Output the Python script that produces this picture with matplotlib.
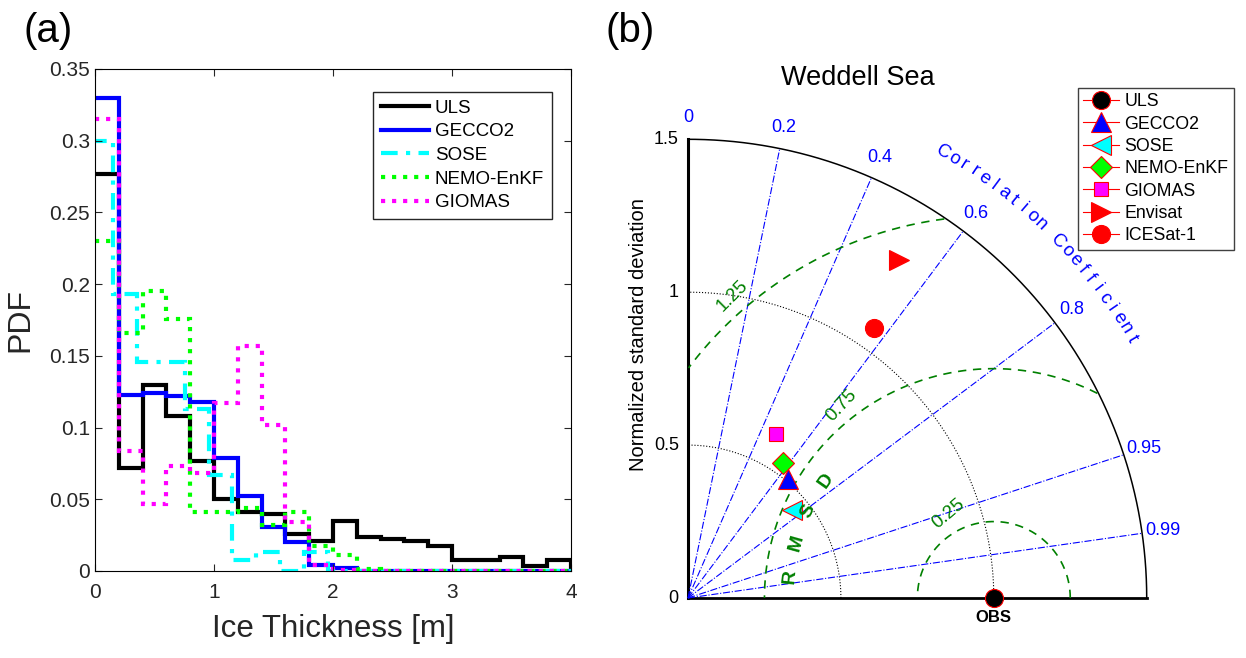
import numpy as np
import matplotlib
matplotlib.use('Agg')
import matplotlib.pyplot as plt
from matplotlib.lines import Line2D

plt.rcParams['font.family'] = ['Liberation Sans', 'DejaVu Sans']

# ---- (a) ice thickness PDFs, 0.2 m bins ----
bin_edges = np.round(np.arange(0, 4.21, 0.2), 2)
sose_edges = np.round(np.arange(-0.045, 4.16, 0.2), 3)

uls = [0.277, 0.072, 0.130, 0.108, 0.077, 0.050, 0.041, 0.040, 0.026, 0.021, 0.035,
       0.0235, 0.022, 0.021, 0.0175, 0.008, 0.008, 0.010, 0.0035, 0.008, 0.003]
gecco2 = [0.330, 0.123, 0.124, 0.122, 0.118, 0.079, 0.052, 0.031, 0.020, 0.004, 0.002,
          0, 0, 0, 0, 0, 0, 0, 0, 0, 0]
sose = [0.300, 0.193, 0.146, 0.146, 0.113, 0.067, 0.0077, 0.0135, 0, 0.013, 0,
        0, 0, 0, 0, 0, 0, 0, 0, 0, 0]
nemo = [0.230, 0.166, 0.195, 0.176, 0.041, 0.041, 0.044, 0.032, 0.041, 0.0175, 0.011,
        0.0014, 0, 0, 0, 0, 0, 0, 0, 0, 0]
giomas = [0.315, 0.084, 0.047, 0.073, 0.068, 0.117, 0.157, 0.102, 0.034, 0.004, 0.001,
          0, 0, 0, 0, 0, 0, 0, 0, 0, 0]

yticks = [0, 0.05, 0.1, 0.15, 0.2, 0.25, 0.3, 0.35]
ytick_labels = ['0', '0.05', '0.1', '0.15', '0.2', '0.25', '0.3', '0.35']
xticks = [0, 1, 2, 3, 4]

# ---- (b) Taylor diagram ----
names = ['ULS', 'GECCO2', 'SOSE', 'NEMO-EnKF', 'GIOMAS', 'Envisat', 'ICESat-1']
std_norm = [1.0, 0.509, 0.445, 0.538, 0.607, 1.303, 1.073]
corr = [1.0, 0.644, 0.762, 0.575, 0.472, 0.530, 0.567]
mk = ['o', '^', '<', 'D', 's', '>', 'o']
mk_color = ['k', 'b', 'cyan', 'lime', 'magenta', 'r', 'r']
mk_size = [13, 14, 14, 11, 10, 14, 13]

corr_ticks = [0, 0.2, 0.4, 0.6, 0.8, 0.95, 0.99]
corr_tick_labels = ['0', '0.2', '0.4', '0.6', '0.8', '0.95', '0.99']
std_ticks = [0, 0.5, 1, 1.5]
std_tick_labels = ['0', '0.5', '1', '1.5']
rmsd_levels = [0.25, 0.75, 1.25]
rmsd_labels = ['0.25', '0.75', '1.25']

fig = plt.figure(figsize=(12.46, 6.58), dpi=100)

# ================= panel (a) =================
ax1 = fig.add_axes([95/1246, 87/658, 476/1246, 502/658])
LW = 3
ax1.stairs(uls, bin_edges, baseline=None, color='k', lw=LW, label='ULS')
ax1.stairs(gecco2, bin_edges, baseline=None, color='b', lw=LW, label='GECCO2')
ax1.stairs(sose, sose_edges, baseline=None, color='cyan', lw=LW,
           ls=(0, (4, 2, 1, 2)), label='SOSE')
ax1.stairs(nemo, bin_edges, baseline=None, color='lime', lw=LW, ls=':', label='NEMO-EnKF')
ax1.stairs(giomas, bin_edges, baseline=None, color='magenta', lw=LW, ls=':', label='GIOMAS')

ax1.set_xlim(0, 4)
ax1.set_ylim(0, 0.35)
ax1.set_xticks(xticks)
ax1.set_yticks(yticks)
ax1.set_yticklabels(ytick_labels)
ax1.tick_params(direction='in', top=True, right=True, labelsize=15, length=5, width=0.8,
                colors='#262626')
ax1.tick_params(axis='x', pad=9)
for s in ax1.spines.values():
    s.set_linewidth(0.8)
ax1.set_xlabel('Ice Thickness [m]', fontsize=22.5, color='#262626', labelpad=8)
ax1.set_ylabel('PDF', fontsize=23, color='#262626', labelpad=10)
ax1.legend(loc='upper left', bbox_to_anchor=(373/1246, 1-92/658), bbox_transform=fig.transFigure,
           fontsize=13.5, frameon=True, fancybox=False, edgecolor='#262626', framealpha=1,
           handlelength=2.6, handletextpad=0.3, borderaxespad=0, borderpad=0.4,
           labelspacing=0.35)
fig.text(24/1246, 1-31/658, '(a)', fontsize=29, va='center', ha='left')

# ================= panel (b) =================
ax2 = fig.add_axes([600/1246, 0, 646/1246, 618/658])
ax2.set_xlim(-0.2878, 1.8247)
ax2.set_ylim(-0.1962, 1.8247)
ax2.axis('off')

th = np.linspace(0, np.pi/2, 300)
# outer arc and axes
ax2.plot(1.5*np.cos(th), 1.5*np.sin(th), color='k', lw=1.1)
ax2.plot([0, 0], [0, 1.5], color='k', lw=2.2)
ax2.plot([0, 1.5], [0, 0], color='k', lw=2.0)

# std dev circles
for r in [0.5, 1.0]:
    ax2.plot(r*np.cos(th), r*np.sin(th), color='k', lw=0.8, ls=':')

# correlation lines and labels
for c, lab in zip(corr_ticks, corr_tick_labels):
    a = np.arccos(c)
    if c > 0:
        ax2.plot([0, 1.5*np.cos(a)], [0, 1.5*np.sin(a)], color='b', lw=0.8, ls='-.')
    ax2.text(1.57*np.cos(a), 1.57*np.sin(a), lab, color='b', fontsize=13,
             ha='center', va='center')

# curved axis title
title_chars = 'Correlation Coefficient'
ang = np.linspace(np.radians(60.2), np.radians(30.3), len(title_chars))
for ch, a in zip(title_chars, ang):
    ax2.text(1.68*np.cos(a), 1.68*np.sin(a), ch, color='b', fontsize=13.5,
             rotation=np.degrees(a) - 90, ha='center', va='center')

# RMSD contours around OBS
ph = np.linspace(0, np.pi, 400)
for r in rmsd_levels:
    x = 1 + r*np.cos(ph)
    y = r*np.sin(ph)
    bad = (x**2 + y**2 > 1.5**2) | (x < 0)
    x = np.where(bad, np.nan, x)
    y = np.where(bad, np.nan, y)
    ax2.plot(x, y, color='green', lw=1.2, ls=(0, (5, 4)))

rmsd_lab_pos = [(0.851, 0.277, 40), (0.503, 0.628, 47), (0.146, 0.988, 45)]
for lab, (x, y, rot) in zip(rmsd_labels, rmsd_lab_pos):
    ax2.text(x, y, lab, color='green', fontsize=13.5, rotation=rot, ha='center', va='center')

for ch, a in zip('RMSD', [174, 164.5, 155, 145]):
    ar = np.radians(a)
    ax2.text(1 + 0.67*np.cos(ar), 0.67*np.sin(ar), ch, color='green', fontsize=14,
             fontweight='bold', rotation=a - 90, ha='center', va='center', zorder=6)

# std ticks
for v, lab in zip(std_ticks, std_tick_labels):
    ax2.text(-0.03, v, lab, fontsize=13, ha='right', va='center')
ax2.text(-0.163, 0.863, 'Normalized standard deviation', fontsize=14.5, rotation=90,
         ha='center', va='center')
ax2.text(0.556, 1.70, 'Weddell Sea', fontsize=19.5, ha='center', va='center')
ax2.text(0.997, -0.065, 'OBS', fontsize=12, fontweight='bold', ha='center', va='center')

# model points
handles = []
for n, s, c, m, col, ms in zip(names, std_norm, corr, mk, mk_color, mk_size):
    a = np.arccos(c)
    ax2.plot(s*np.cos(a), s*np.sin(a), marker=m, ms=ms, mfc=col, mec='r', mew=0.8,
             ls='none', zorder=5, clip_on=False)
    handles.append(Line2D([], [], color='r', lw=0.8, marker=m, ms=ms, mfc=col,
                          mec='r', mew=0.8, label=n))

fig.legend(handles=handles, loc='upper left', bbox_to_anchor=(1078/1246, 1-88/658),
           fontsize=12.8, frameon=True, fancybox=False, edgecolor='#404040', framealpha=1,
           handlelength=2.0, borderaxespad=0, borderpad=0.3, labelspacing=0.3,
           handletextpad=0.3)
fig.text(606/1246, 1-31/658, '(b)', fontsize=29, va='center', ha='left')

fig.savefig('out.png', dpi=100)
